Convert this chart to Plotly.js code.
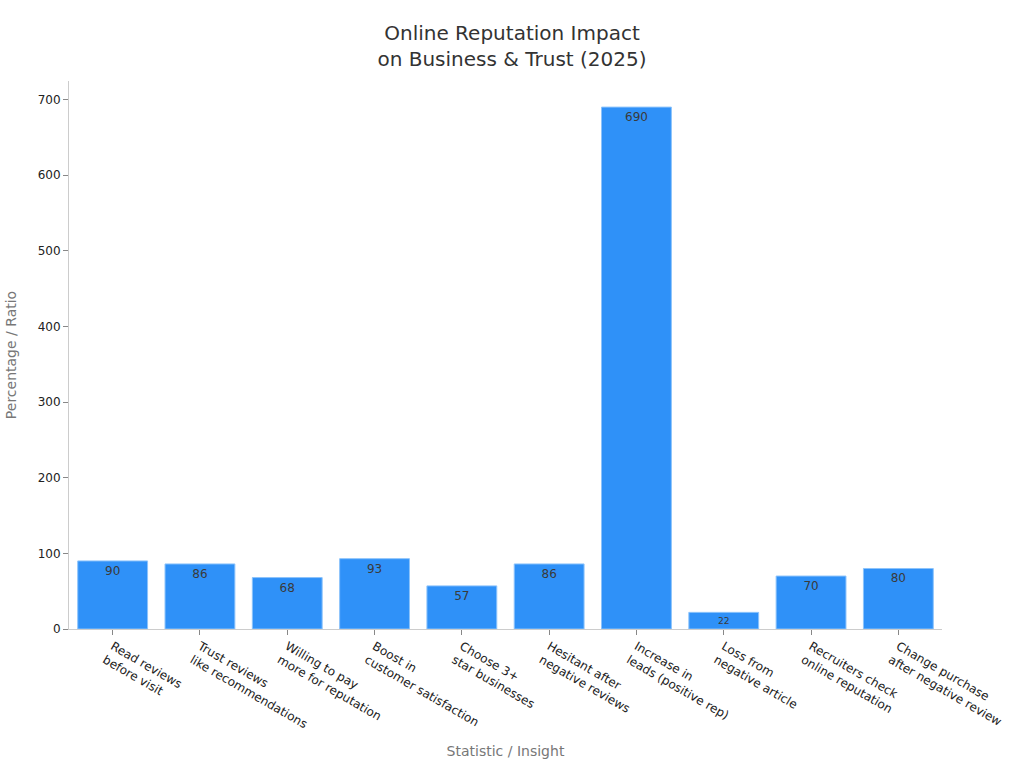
<!DOCTYPE html>
<html>
<head>
<meta charset="utf-8">
<script src="https://cdn.plot.ly/plotly-3.0.1.min.js"></script>
<style>html,body{margin:0;padding:0;background:#fff;}#chart{width:1024px;height:768px;}</style>
</head>
<body>
<div id="chart"></div>
<script>
const categories = [
  "Read reviews<br>before visit",
  "Trust reviews<br>like recommendations",
  "Willing to pay<br>more for reputation",
  "Boost in<br>customer satisfaction",
  "Choose 3+<br>star businesses",
  "Hesitant after<br>negative reviews",
  "Increase in<br>leads (positive rep)",
  "Loss from<br>negative article",
  "Recruiters check<br>online reputation",
  "Change purchase<br>after negative review"
];
const values = [90, 86, 68, 93, 57, 86, 690, 22, 70, 80];

const trace = {
  type: 'bar',
  x: categories,
  y: values,
  text: values.map(String),
  textposition: 'inside',
  insidetextanchor: 'end',
  textangle: 0,
  textfont: {family: 'DejaVu Sans', size: 12, color: '#3a3a3a'},
  marker: {color: '#2f91f8', line: {color: '#8cc3fb', width: 1}},
  hoverinfo: 'skip'
};

const layout = {
  width: 1024, height: 768,
  margin: {l: 69, r: 82, t: 81, b: 139},
  paper_bgcolor: '#ffffff', plot_bgcolor: '#ffffff',
  font: {family: 'DejaVu Sans', size: 12, color: '#333333'},
  title: {text: 'Online Reputation Impact<br>on Business &amp; Trust (2025)', x: 0.5, xanchor: 'center', y: 0.948, yanchor: 'top', font: {size: 20, color: '#333333'}},
  bargap: 0.2,
  showlegend: false,
  xaxis: {
    title: {text: 'Statistic / Insight', font: {size: 14, color: '#777777'}, standoff: 16},
    tickangle: 30,
    ticks: 'outside', ticklen: 5, tickcolor: '#888888',
    showline: true, linecolor: '#cccccc', linewidth: 1,
    showgrid: false,
    tickfont: {size: 12, color: '#222222'}
  },
  yaxis: {
    title: {text: 'Percentage / Ratio', font: {size: 14, color: '#777777'}, standoff: 17},
    range: [0, 724.5],
    dtick: 100,
    ticks: 'outside', ticklen: 5, tickcolor: '#888888',
    showline: true, linecolor: '#cccccc', linewidth: 1,
    showgrid: false, zeroline: false,
    tickfont: {size: 12, color: '#222222'}
  }
};

Plotly.newPlot('chart', [trace], layout, {displayModeBar: false, staticPlot: true});
</script>
</body>
</html>
